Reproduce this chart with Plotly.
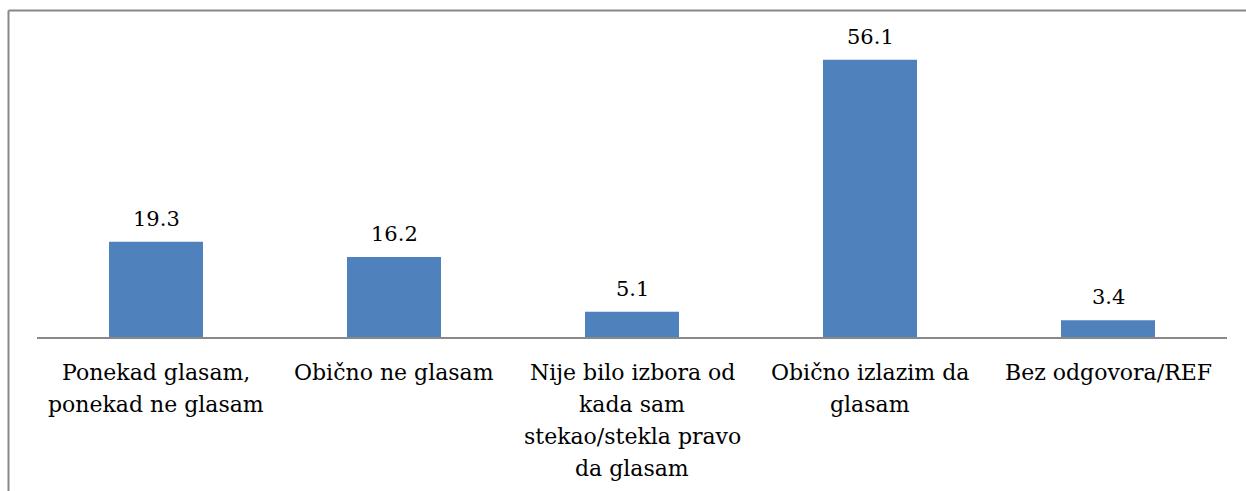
import plotly.graph_objects as go

categories = ["Ponekad glasam, ponekad ne glasam", "Obično ne glasam",
              "Nije bilo izbora od kada sam stekao/stekla pravo da glasam",
              "Obično izlazim da glasam", "Bez odgovora/REF"]
label_lines = [["Ponekad glasam,", "ponekad ne glasam"],
               ["Obično ne glasam"],
               ["Nije bilo izbora od", "kada sam", "stekao/stekla pravo", "da glasam"],
               ["Obično izlazim da", "glasam"],
               ["Bez odgovora/REF"]]
values = [19.3, 16.2, 5.1, 56.1, 3.4]
value_labels = ["19.3", "16.2", "5.1", "56.1", "3.4"]

W, H = 1246, 491
L, R, T, B = 37, 19, 20, 154
plot_h = H - T - B
plot_w = W - L - R
FONT = "DejaVu Serif"

fig = go.Figure(go.Bar(x=categories, y=values, marker_color="#4F81BD",
                       marker_line_width=0, width=0.395))

ann = []
for c, v, t in zip(categories, values, value_labels):
    ann.append(dict(x=c, y=v, xref="x", yref="y", text=t, showarrow=False,
                    yanchor="bottom", yshift=9, font=dict(family=FONT, size=21, color="#000")))
for c, lines in zip(categories, label_lines):
    for i, line in enumerate(lines):
        ypx = 372 + i * 32.3
        ann.append(dict(x=c, xref="x", yref="paper", y=(H - B - ypx) / plot_h, text=line,
                        showarrow=False, yanchor="middle",
                        font=dict(family=FONT, size=22, color="#000")))

bx = (8.5 - L) / plot_w
by = (H - B - 10.5) / plot_h
shapes = [
    dict(type="line", xref="paper", yref="paper", x0=bx, x1=(W + 5 - L) / plot_w,
         y0=by, y1=by, line=dict(color="#888888", width=2)),
    dict(type="line", xref="paper", yref="paper", x0=bx, x1=bx,
         y0=by, y1=(H - B - H - 5) / plot_h, line=dict(color="#888888", width=2)),
]

fig.update_layout(
    width=W, height=H, margin=dict(l=L, r=R, t=T, b=B),
    paper_bgcolor="white", plot_bgcolor="white", showlegend=False,
    xaxis=dict(showticklabels=False, ticks="", showline=True, linecolor="#898989", linewidth=2,
               showgrid=False, zeroline=False, fixedrange=True),
    yaxis=dict(range=[0, plot_h / 4.94], visible=False, showgrid=False, zeroline=False),
    annotations=ann, shapes=shapes, bargap=0.6,
)
fig.write_html("out.html", config={"displayModeBar": False},
               post_script="document.body.style.margin='0';document.body.style.overflow='hidden';")
